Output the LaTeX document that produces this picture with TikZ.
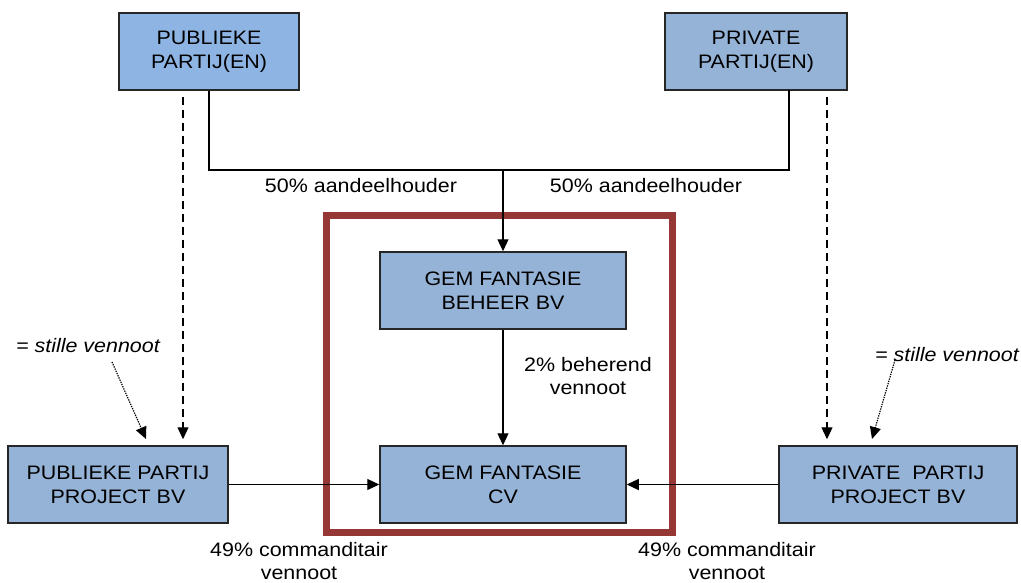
\documentclass[tikz,border=0pt]{standalone}
\usepackage{fontspec}
\setmainfont{Liberation Sans}[FakeStretch=1.1]
\usetikzlibrary{arrows.meta}
\definecolor{boxblue}{HTML}{95B3D7}
\definecolor{boxlight}{HTML}{8DB4E2}
\definecolor{framered}{HTML}{953735}
\tikzset{
  entity/.style={draw=black!85, line width=1.5pt, fill=boxblue, align=center,
    inner sep=0pt, minimum height=77pt, font=\fontsize{19.5}{24}\selectfont},
  lbl/.style={align=center, inner sep=0pt, font=\fontsize{19.5}{23}\selectfont},
  note/.style={inner sep=0pt, font=\fontsize{19.5}{23}\selectfont\itshape},
  link/.style={line width=1.2pt, -{Triangle[length=12pt,width=11pt]}},
  plainline/.style={line width=1.2pt},
  silent/.style={line width=1.2pt, dash pattern=on 8pt off 5pt, -{Triangle[length=12pt,width=11pt]}, shorten >=6pt, shorten <=7pt},
  hint/.style={line width=1.2pt, dash pattern=on 1.3pt off 1.1pt, -{Triangle[length=12pt,width=11pt]}}
}
\begin{document}
\begin{tikzpicture}[x=1pt,y=-1pt]
\useasboundingbox (0,0) rectangle (1021,583);

% shareholders
\node[entity, fill=boxlight, minimum width=180pt] (pub) at (209,51.5) {PUBLIEKE\\PARTIJ(EN)};
\node[entity, minimum width=182pt] (priv) at (756,51.5) {PRIVATE\\PARTIJ(EN)};

% the joint venture
\draw[framered, line width=7pt] (326.5,215.5) rectangle (672.5,532.5);
\node[entity, minimum width=246pt] (beheer) at (503,290.5) {GEM FANTASIE\\BEHEER BV};
\node[entity, minimum width=246pt] (cv) at (503,484.5) {GEM FANTASIE\\CV};

% project companies
\node[entity, minimum width=220pt] (pubproj) at (118,484.5) {PUBLIEKE PARTIJ\\PROJECT BV};
\node[entity, minimum width=238pt] (privproj) at (898,484.5) {PRIVATE\ \ PARTIJ\\PROJECT BV};

% shareholding lines
\coordinate (join) at (503,170);
\coordinate (privout) at (789,90);
\draw[plainline] (pub.south) |- (join);
\draw[plainline] (privout) |- (join);
\draw[link] (join) -- (beheer.north);
\node[lbl] (shl) at (361,186) {50\% aandeelhouder};
\node[lbl] (shr) at (646,186) {50\% aandeelhouder};

% management and limited partners
\draw[link] (beheer.south) -- (cv.north);
\node[lbl] (mgmt) at (588,376) {2\% beherend\\vennoot};
\draw[link] (pubproj.east) -- (cv.west);
\draw[link] (privproj.west) -- (cv.east);
\node[lbl] (cml) at (299,561) {49\% commanditair\\vennoot};
\node[lbl] (cmr) at (727,561) {49\% commanditair\\vennoot};

% silent partner relations
\coordinate (pubdash) at (183,90);
\coordinate (privdash) at (827,90);
\draw[silent] (pubdash) -- (pubdash |- pubproj.north);
\draw[silent] (privdash) -- (privdash |- privproj.north);

\node[note] (svl) at (88,346) {= stille vennoot};
\node[note] (svr) at (947,355) {= stille vennoot};
\coordinate (hl1) at (112,362);
\coordinate (hl2) at (146,439);
\coordinate (hr1) at (895,360);
\coordinate (hr2) at (872,439);
\draw[hint] (hl1) -- (hl2);
\draw[hint] (hr1) -- (hr2);
\end{tikzpicture}
\end{document}
